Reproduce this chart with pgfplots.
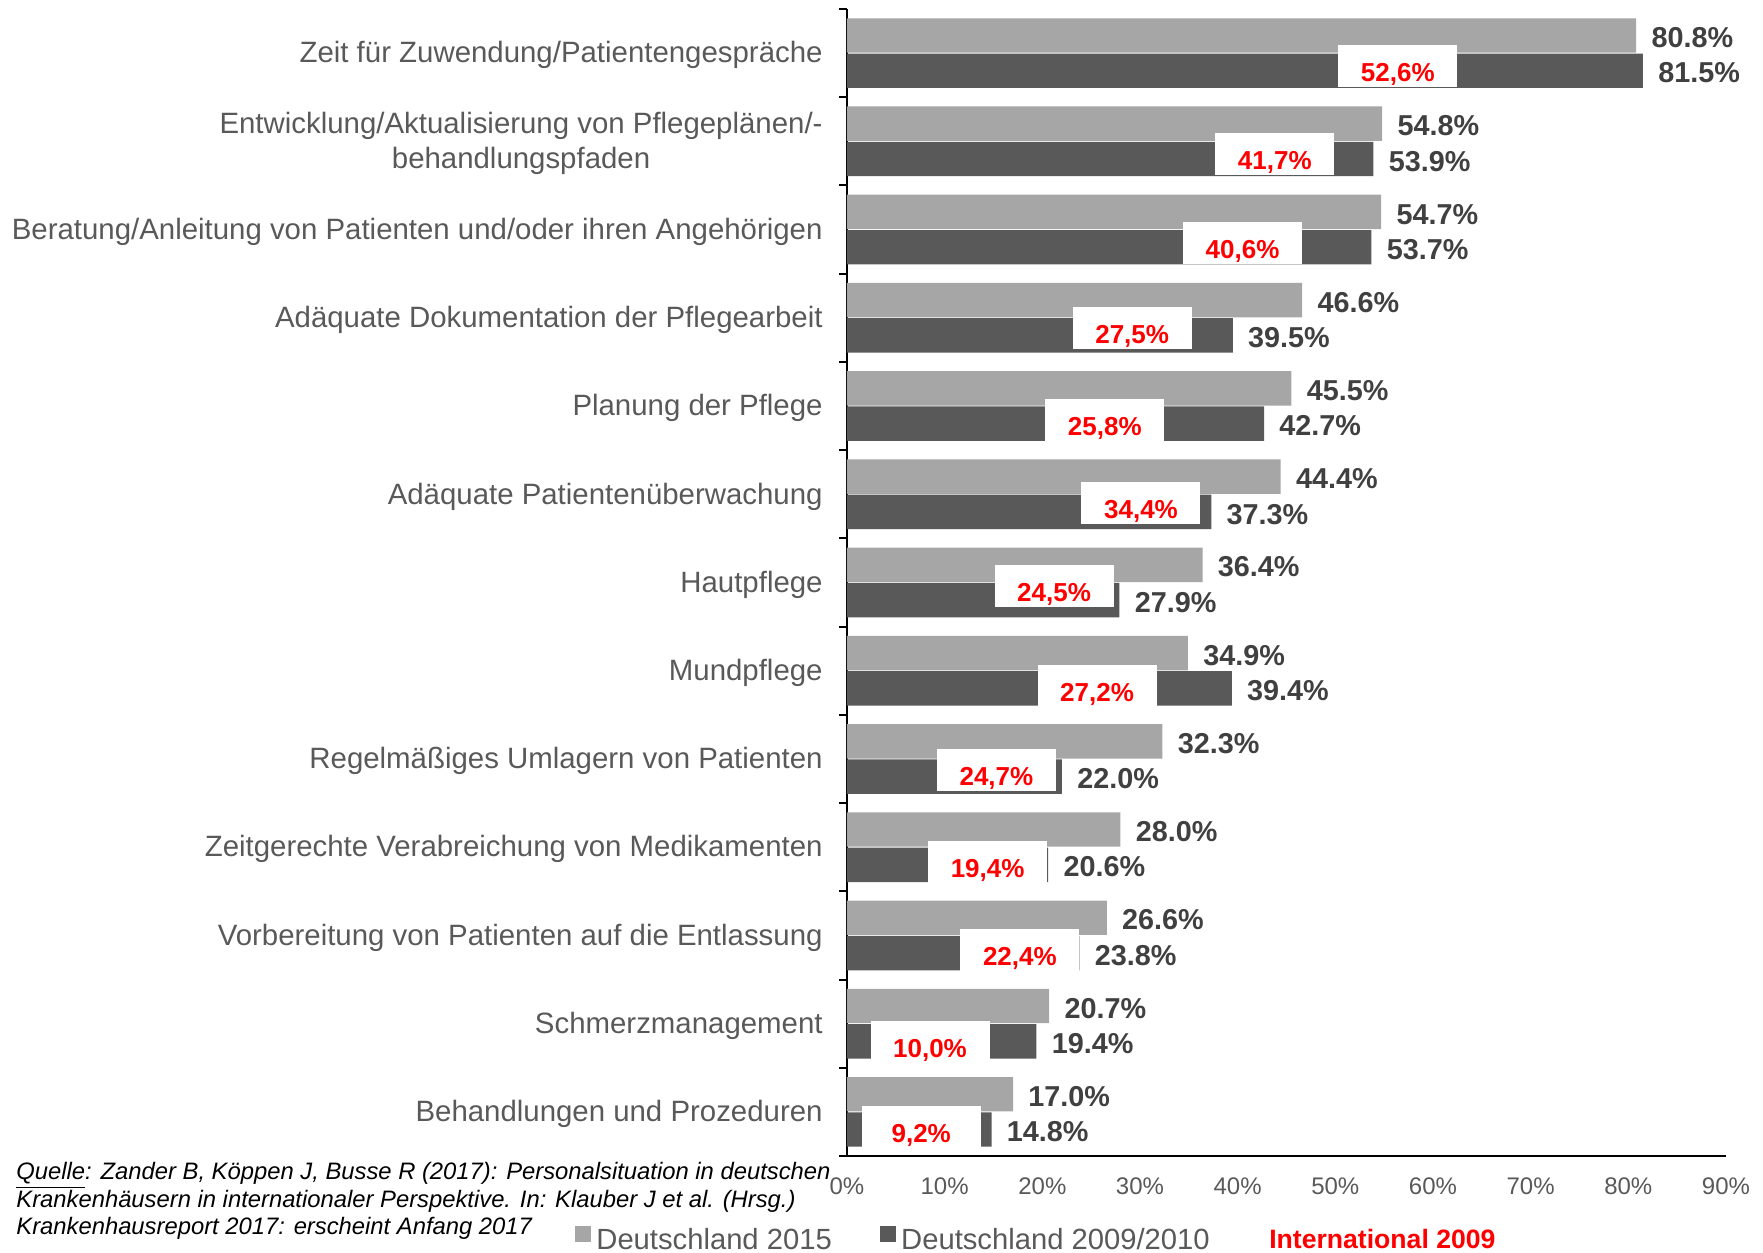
\documentclass[border=0pt]{standalone}
\usepackage{pgfplots}
\pgfplotsset{compat=1.18}
\usepackage{fontspec}
\setmainfont{Liberation Sans}
\definecolor{lightbar}{HTML}{A6A6A6}
\definecolor{darkbar}{HTML}{595959}
\definecolor{lbl}{HTML}{404040}
\definecolor{axtxt}{HTML}{595959}
\definecolor{intl}{HTML}{FF0000}
\pgfplotsset{
  vallabel/.style={draw=none, mark=none, point meta=x, forget plot,
    nodes near coords={\pgfmathprintnumber[fixed,fixed zerofill,precision=1,assume math mode=true]{\pgfplotspointmeta}\%},
    nodes near coords style={anchor=west, inner sep=0pt, xshift=7.5pt, text=lbl,
      font=\bfseries\fontsize{14.4}{16}\selectfont}},
}
\begin{document}
\begin{tikzpicture}
\useasboundingbox (0,0) rectangle (881.5pt,626.5pt);
\begin{axis}[
  at={(423.5pt,48.5pt)}, anchor=south west,
  scale only axis, width=439.5pt, height=573.5pt,
  xmin=0, xmax=90, ymin=0.5, ymax=13.5,
  clip=false,
  axis x line*=bottom, axis y line*=left,
  axis line style={black, line width=1pt, -},
  xtick={0,10,...,90},
  xticklabels={0\%,10\%,20\%,30\%,40\%,50\%,60\%,70\%,80\%,90\%},
  ytick={1,...,13},
  yticklabels={Behandlungen und Prozeduren,
    Schmerzmanagement,
    Vorbereitung von Patienten auf die Entlassung,
    Zeitgerechte Verabreichung von Medikamenten,
    Regelmäßiges Umlagern von Patienten,
    Mundpflege,
    Hautpflege,
    Adäquate Patientenüberwachung,
    Planung der Pflege,
    Adäquate Dokumentation der Pflegearbeit,
    Beratung/Anleitung von Patienten und/oder ihren Angehörigen,
    {Entwicklung/Aktualisierung von Pflegeplänen/-\\behandlungspfaden},
    Zeit für Zuwendung/Patientengespräche},
  minor ytick={0.5,1.5,...,13.5},
  major tick length=0pt,
  minor tick length=4pt,
  tick align=outside,
  minor tick style={black, line width=1pt},
  yticklabel style={inner sep=0pt, xshift=-12pt, yshift=-1.1pt, align=center, text=axtxt,
    font=\fontsize{14.7}{17.2}\selectfont},
  xticklabel style={inner sep=0pt, yshift=-10.7pt, text=axtxt,
    font=\fontsize{12}{14}\selectfont},
  legend style={at={(-0.3094,-0.0724)}, anchor=west, draw=none, fill=none,
    inner sep=0pt, outer sep=0pt, font=\fontsize{14.6}{17}\selectfont, text=axtxt,
    nodes={inner sep=0pt},
    /tikz/every even column/.append style={column sep=24pt},
    /tikz/every odd column/.append style={column sep=2.8pt}},
  legend columns=3,
]
% Deutschland 2015
\addplot[xbar, bar width=0.39, bar shift=0.2, fill=lightbar, draw=none, forget plot]
coordinates {(17.0,1) (20.7,2) (26.6,3) (28.0,4) (32.3,5) (34.9,6) (36.4,7)
  (44.4,8) (45.5,9) (46.6,10) (54.7,11) (54.8,12) (80.8,13)};
% Deutschland 2009/2010
\addplot[xbar, bar width=0.39, bar shift=-0.2, fill=darkbar, draw=none, forget plot]
coordinates {(14.8,1) (19.4,2) (23.8,3) (20.6,4) (22.0,5) (39.4,6) (27.9,7)
  (37.3,8) (42.7,9) (39.5,10) (53.7,11) (53.9,12) (81.5,13)};
% value labels
\addplot[vallabel]
coordinates {(17.0,1.175) (20.7,2.175) (26.6,3.175) (28.0,4.175) (32.3,5.175) (34.9,6.175) (36.4,7.175)
  (44.4,8.175) (45.5,9.175) (46.6,10.175) (54.7,11.175) (54.8,12.175) (80.8,13.175)};
\addplot[vallabel]
coordinates {(14.8,0.775) (19.4,1.775) (23.8,2.775) (20.6,3.775) (22.0,4.775) (39.4,5.775) (27.9,6.775)
  (37.3,7.775) (42.7,8.775) (39.5,9.775) (53.7,10.775) (53.9,11.775) (81.5,12.775)};
% International 2009 (label boxes)
\addplot[draw=none, mark=none, point meta=explicit symbolic, nodes near coords,
  nodes near coords style={anchor=center, fill=white, inner sep=0pt,
    minimum width=59.5pt, minimum height=21pt, text height=15.4pt, text depth=0pt,
    text=intl, font=\bfseries\fontsize{13}{15}\selectfont}, forget plot]
coordinates {(56.4,12.85) [52,6\%] (43.8,11.856) [41,7\%] (40.5,10.85) [40,6\%]
  (29.2,9.88) [27,5\%] (26.4,8.836) [25,8\%] (30.1,7.904) [34,4\%]
  (21.2,6.962) [24,5\%] (25.6,5.828) [27,2\%] (15.3,4.871) [24,7\%]
  (14.4,3.827) [19,4\%] (17.7,2.832) [22,4\%] (8.5,1.787) [10,0\%]
  (7.6,0.832) [9,2\%]};
\addlegendimage{legend image code/.code={\fill[lightbar] (0pt,-0.5pt) rectangle (7.5pt,7pt);}}
\addlegendentry{Deutschland 2015}
\addlegendimage{legend image code/.code={\fill[darkbar] (0pt,-0.5pt) rectangle (7.5pt,7pt);}}
\addlegendentry{Deutschland 2009/2010}
\addlegendimage{empty legend}
\addlegendentry{\hspace*{3pt}\textcolor{intl}{\bfseries\fontsize{13.3}{15}\selectfont International 2009}}
\end{axis}
\node[anchor=north west, align=left, inner sep=0pt, text=black,
  font=\itshape\fontsize{11.9}{13.75}\selectfont] at (8pt,45.4pt)
  {\underline{Quelle}: Zander B, Köppen J, Busse R (2017): Personalsituation in deutschen\\
   Krankenhäusern in internationaler Perspektive. In: Klauber J et al. (Hrsg.)\\
   Krankenhausreport 2017: erscheint Anfang 2017};
\end{tikzpicture}
\end{document}
